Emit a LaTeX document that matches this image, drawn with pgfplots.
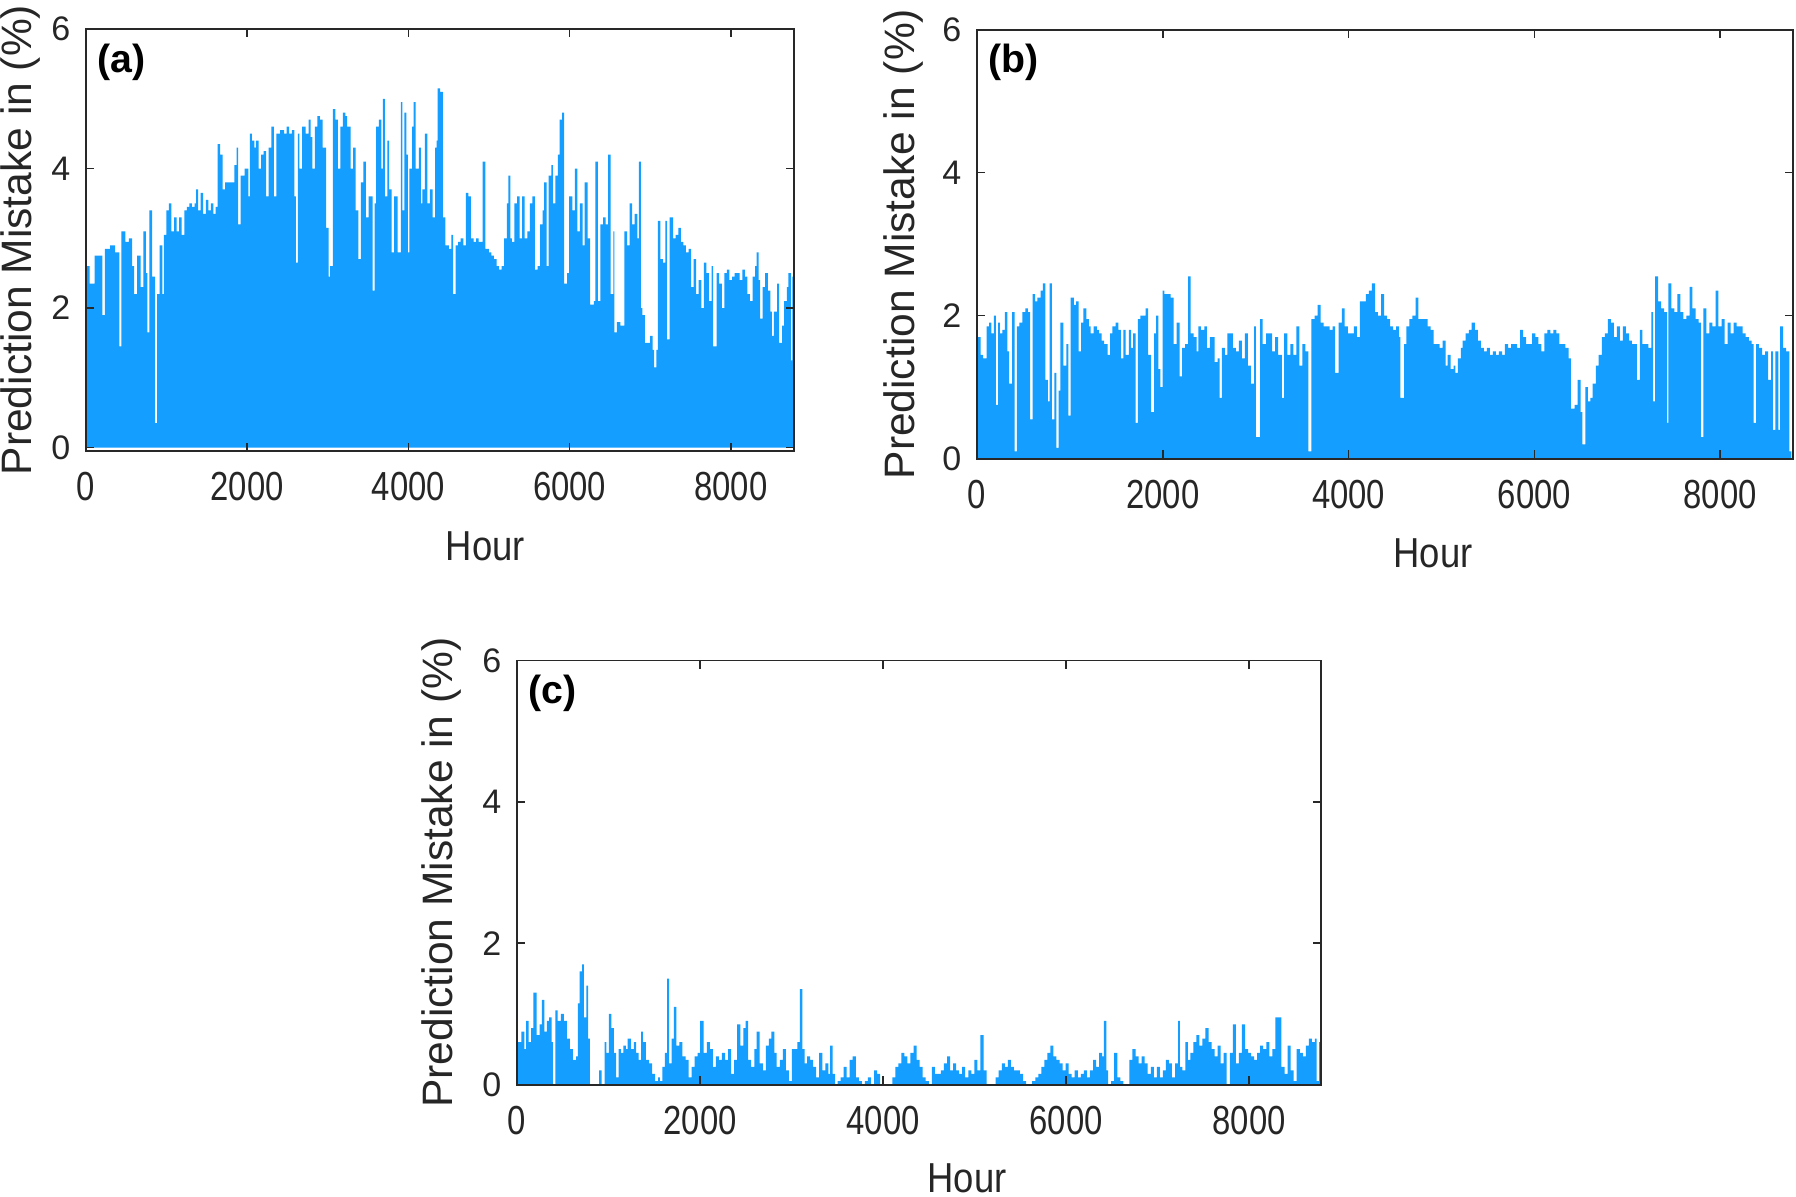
\documentclass[border=0pt]{standalone}
\usepackage{pgfplots}
\pgfplotsset{compat=1.18}
\usepackage{fontspec}
\setmainfont{Liberation Sans}
\newfontfamily\condfont{Liberation Sans}[FakeStretch=0.87]
\newfontfamily\tickfont{Liberation Sans}[FakeStretch=0.81]
\definecolor{barblue}{RGB}{20,158,255}
\definecolor{framec}{RGB}{40,40,40}

\pgfplotsset{
  panel/.style={
    scale only axis, anchor=north west,
    xmin=0, xmax=8784, ymin=0, ymax=6,
    xtick={0,2000,4000,6000,8000}, xticklabels={0,2000,4000,6000,8000},
    ytick={0,2,4,6}, yticklabels={0,2,4,6},
    scaled x ticks=false, scaled y ticks=false,
    tick align=inside, major tick length=2.5pt,
    axis on top,
    axis line style={line width=0.6pt, framec},
    every tick/.style={line width=0.5pt, framec},
    xticklabel style={font=\tickfont\fontsize{12.4}{14}\selectfont, yshift=-3pt, text=black!85},
    yticklabel style={font=\fontsize{10.4}{12}\selectfont, xshift=-1.3pt, text=black!85},
    every axis x label/.style={font=\condfont\fontsize{12.8}{14}\selectfont, anchor=center, text=black!85},
    every axis y label/.style={font=\fontsize{13}{15}\selectfont, anchor=center, rotate=90, text=black!85},
    xlabel={Hour}, ylabel={Prediction Mistake in (\%)},
  },
  area/.style={fill=barblue, draw=none, const plot mark left},
}

\begin{document}
\begin{tikzpicture}[x=1pt,y=1pt]

% ---------------- (a)
\begin{axis}[panel, at={(26.28pt,-8.86pt)}, width=216.4pt, height=129.0pt, ymin=-0.05,
  xlabel style={at={([xshift=13.8pt,yshift=-29pt]axis description cs:0.5,0)}},
  ylabel style={at={([xshift=-20pt]axis description cs:0,0.5)}}]
\addplot[area] table {
0 0
0 2.6
44 2.35
108 2.75
203 1.9
235 2.85
298 2.9
362 2.8
413 1.45
438 3.1
489 2.95
533 3.0
572 2.6
597 2.2
635 2.75
679 2.3
711 3.1
743 2.5
762 1.65
787 3.4
819 2.45
857 0.35
883 2.2
914 2.9
946 2.2
965 3.05
997 3.4
1029 3.5
1060 3.1
1092 3.3
1124 3.1
1156 3.3
1187 3.05
1219 3.4
1251 3.45
1283 3.5
1314 3.45
1346 3.5
1365 3.7
1391 3.4
1422 3.65
1454 3.35
1486 3.55
1518 3.4
1549 3.5
1581 3.35
1607 3.45
1632 4.35
1664 4.2
1695 3.7
1727 3.8
1772 3.8
1803 3.8
1842 4.05
1867 4.3
1886 3.2
1918 3.9
1969 4.0
2013 3.6
2032 4.5
2057 4.4
2089 4.3
2108 4.4
2140 4.0
2172 4.2
2203 4.25
2235 3.6
2267 4.3
2299 4.6
2330 3.6
2362 4.5
2407 4.55
2457 4.5
2489 4.6
2521 4.5
2553 4.55
2584 3.6
2604 2.65
2629 4.5
2648 4.0
2680 4.6
2724 4.5
2762 4.7
2788 4.45
2807 4.0
2838 4.6
2870 4.75
2902 4.7
2934 4.3
2978 3.15
3010 2.45
3029 2.6
3061 4.85
3092 4.7
3124 4.0
3156 4.6
3188 4.8
3219 4.75
3239 4.6
3283 4.0
3315 4.3
3346 3.4
3378 2.7
3410 3.8
3442 4.1
3473 3.3
3505 3.6
3556 2.25
3581 3.5
3600 4.6
3632 4.7
3664 4.0
3683 5.0
3708 3.6
3740 4.4
3759 3.7
3791 2.8
3823 3.6
3867 2.8
3905 4.95
3924 3.4
3950 4.8
3975 4.2
3994 2.8
4013 4.0
4045 4.6
4064 4.95
4089 4.0
4128 4.3
4153 3.5
4172 3.7
4204 4.5
4236 3.5
4267 3.7
4299 3.3
4331 4.3
4350 4.4
4362 5.15
4394 5.1
4426 3.3
4458 2.9
4502 2.85
4534 3.05
4553 2.2
4585 2.9
4616 2.95
4648 3.0
4680 2.9
4712 3.65
4743 3.6
4775 3.0
4807 2.95
4839 3.0
4870 2.95
4902 2.95
4921 4.1
4953 2.85
4997 2.8
5029 2.75
5061 2.7
5093 2.6
5124 2.55
5156 2.6
5188 3.0
5220 3.5
5239 3.9
5264 3.0
5283 2.95
5315 3.5
5347 3.6
5378 3.0
5410 3.6
5442 3.0
5474 3.1
5505 3.5
5537 3.6
5569 2.55
5601 2.6
5632 3.2
5664 3.4
5683 3.8
5715 2.6
5740 3.9
5772 4.05
5791 3.5
5823 3.9
5855 4.2
5874 4.7
5906 4.8
5931 2.35
5969 2.5
5994 3.6
6033 3.4
6064 4.0
6096 3.1
6128 3.5
6160 2.9
6185 3.8
6223 3.0
6255 2.05
6299 2.1
6318 4.1
6350 2.1
6382 3.2
6414 3.3
6445 3.2
6477 4.2
6509 2.2
6541 3.1
6553 1.65
6585 1.8
6629 1.75
6680 3.1
6712 2.9
6744 3.5
6776 3.2
6807 3.35
6839 3.0
6858 4.1
6883 2.0
6902 1.9
6934 1.5
6966 1.5
6998 1.6
7029 1.4
7049 1.15
7074 1.4
7093 3.25
7125 2.7
7157 2.65
7188 3.25
7207 1.55
7239 3.3
7284 3.0
7315 3.05
7347 3.15
7379 2.95
7410 2.9
7442 2.8
7474 2.85
7506 2.3
7537 2.7
7569 2.2
7601 2.4
7633 2.0
7664 2.65
7696 2.5
7728 2.1
7760 2.6
7779 1.45
7823 2.5
7855 2.35
7887 2.0
7918 2.5
7950 2.55
7982 2.4
8014 2.45
8045 2.5
8077 2.5
8109 2.4
8141 2.55
8172 2.45
8204 2.2
8236 2.1
8268 2.45
8299 2.6
8318 2.8
8344 2.4
8363 1.85
8395 2.3
8426 2.5
8458 2.25
8490 1.95
8509 1.6
8534 1.95
8573 2.35
8598 1.5
8636 1.75
8661 2.1
8693 2.3
8712 2.5
8744 1.25
8763 2.45
8775 2.45
8775 0
};
\node[anchor=north west, inner sep=0pt, font=\bfseries\fontsize{12}{14}\selectfont] at ([xshift=3.4pt,yshift=-4.3pt]rel axis cs:0,1) {(a)};
\end{axis}

% ---------------- (b)
\begin{axis}[panel, at={(298.57pt,-9.05pt)}, width=249.4pt, height=131.1pt,
  xlabel style={at={([xshift=14.7pt,yshift=-29pt]axis description cs:0.5,0)}},
  ylabel style={at={([xshift=-22.6pt]axis description cs:0,0.5)}}]
\addplot[area] table {
0 0
0 0.7
13 1.7
39 1.45
65 1.4
104 1.85
130 1.9
156 1.75
182 2.0
202 0.75
228 1.9
247 1.75
273 1.8
299 2.05
326 1.5
345 1.05
378 2.05
404 0.1
430 1.85
456 1.9
488 2.05
521 2.1
547 2.05
573 0.55
599 2.3
625 2.2
651 2.25
684 2.35
710 2.45
736 1.1
762 0.8
781 2.45
807 0.55
833 1.2
853 0.15
879 0.95
898 1.9
931 1.3
963 1.6
983 0.6
1009 2.25
1042 2.15
1068 2.2
1094 1.5
1120 1.9
1146 2.1
1178 1.95
1204 1.85
1224 1.75
1256 1.85
1289 1.8
1315 1.75
1341 1.65
1367 1.6
1406 1.45
1432 1.75
1458 1.85
1491 1.9
1523 1.8
1549 1.4
1575 1.8
1601 1.45
1634 1.8
1660 1.55
1680 1.75
1706 0.5
1732 1.95
1758 2.0
1790 2.0
1816 2.1
1842 1.45
1875 0.65
1907 1.75
1927 2.0
1953 1.25
1973 1.0
1999 2.35
2018 2.3
2051 2.3
2083 2.25
2116 1.6
2148 1.9
2181 1.15
2207 1.55
2239 1.6
2272 2.55
2298 1.75
2331 1.7
2363 1.5
2383 1.85
2409 1.8
2448 1.85
2474 1.55
2506 1.7
2532 1.7
2558 1.35
2591 1.4
2611 0.85
2637 1.55
2669 1.45
2695 1.75
2721 1.75
2754 1.55
2786 1.5
2819 1.65
2851 1.4
2884 1.75
2916 1.3
2949 1.05
2982 1.85
3001 0.3
3047 1.95
3073 1.6
3112 1.75
3144 1.75
3177 1.5
3209 1.7
3242 1.45
3281 0.85
3307 1.75
3340 1.45
3372 1.6
3405 1.45
3437 1.85
3470 1.3
3502 1.6
3535 1.5
3567 0.1
3600 1.95
3633 2.0
3665 2.15
3698 1.9
3730 1.85
3763 1.85
3795 1.8
3828 1.85
3854 1.2
3893 1.9
3926 2.1
3958 1.85
3991 1.75
4023 1.75
4056 1.85
4088 1.7
4121 2.2
4153 2.2
4186 2.3
4218 2.35
4251 2.45
4284 2.05
4316 2.0
4349 2.3
4381 2.0
4414 1.95
4446 1.85
4479 1.8
4511 1.85
4544 1.7
4557 0.85
4596 1.6
4622 1.85
4655 1.95
4687 2.0
4720 2.25
4752 1.95
4785 1.95
4817 1.95
4850 1.85
4883 1.8
4915 1.6
4948 1.6
4980 1.55
5013 1.65
5045 1.3
5065 1.45
5097 1.25
5130 1.3
5149 1.2
5175 1.4
5208 1.55
5228 1.65
5260 1.75
5293 1.8
5325 1.9
5358 1.8
5390 1.65
5423 1.55
5455 1.5
5488 1.55
5520 1.45
5553 1.5
5586 1.45
5618 1.5
5651 1.45
5683 1.6
5716 1.55
5748 1.6
5781 1.6
5813 1.55
5846 1.8
5878 1.7
5911 1.6
5944 1.6
5976 1.75
6009 1.7
6041 1.6
6074 1.5
6106 1.75
6139 1.8
6171 1.75
6204 1.8
6237 1.75
6269 1.6
6302 1.6
6334 1.55
6367 1.4
6393 0.7
6432 0.75
6464 1.1
6497 0.65
6517 0.2
6549 1.0
6575 0.8
6601 0.85
6627 1.05
6660 1.3
6692 1.45
6725 1.7
6757 1.75
6790 1.95
6822 1.9
6855 1.7
6888 1.85
6920 1.65
6953 1.85
6985 1.75
7018 1.65
7050 1.6
7083 1.6
7102 1.1
7135 1.8
7161 1.6
7194 1.6
7226 1.55
7259 2.05
7278 0.8
7298 2.55
7330 2.2
7363 2.1
7395 2.05
7428 0.5
7441 2.45
7473 2.1
7506 2.05
7538 2.3
7571 2.05
7604 1.95
7636 2.0
7669 2.4
7701 2.1
7734 1.95
7766 1.9
7792 0.3
7818 2.1
7851 1.75
7884 1.9
7916 1.85
7949 2.35
7981 1.85
8014 1.95
8046 1.6
8079 1.9
8111 1.75
8144 1.9
8177 1.85
8209 1.85
8242 1.75
8274 1.7
8307 1.65
8339 1.6
8359 0.5
8385 1.6
8417 1.55
8450 1.45
8482 1.5
8515 1.1
8547 1.5
8567 0.4
8593 1.5
8626 0.4
8645 1.85
8678 1.55
8710 1.5
8743 0.1
8765 0.1
8765 0
};
\node[anchor=north west, inner sep=0pt, font=\bfseries\fontsize{12}{14}\selectfont] at ([xshift=3.4pt,yshift=-4.3pt]rel axis cs:0,1) {(b)};
\end{axis}

% ---------------- (c)
\begin{axis}[panel, at={(158.0pt,-201.85pt)}, width=245.7pt, height=129.6pt,
  xlabel style={at={([xshift=14.7pt,yshift=-28.5pt]axis description cs:0.5,0)}},
  ylabel style={at={([xshift=-23.2pt]axis description cs:0,0.5)}}]
\addplot[area] table {
0 0
0 0.6
47 0.75
80 0.5
100 0.9
126 0.6
153 0.8
179 1.3
213 0.7
246 0.85
272 1.2
299 0.75
326 0.9
352 0.95
379 0.6
392 0.0
419 1.05
445 0.9
478 1.0
512 0.9
545 0.65
578 0.5
611 0.35
645 0.4
665 1.15
684 1.6
711 1.7
731 0.95
758 1.4
777 0.65
797 0.0
897 0.2
924 0.0
957 0.6
977 0.45
1003 1.0
1030 0.8
1057 0.45
1083 0.1
1110 0.5
1136 0.45
1163 0.55
1189 0.5
1209 0.65
1243 0.5
1276 0.6
1302 0.45
1329 0.35
1356 0.75
1376 0.6
1409 0.35
1442 0.3
1475 0.15
1508 0.05
1542 0.1
1562 0.05
1588 0.25
1615 0.45
1641 1.5
1661 0.3
1688 0.65
1714 1.1
1741 0.55
1774 0.6
1807 0.4
1841 0.35
1874 0.1
1907 0.25
1940 0.4
1974 0.45
2000 0.9
2020 0.9
2040 0.45
2073 0.6
2106 0.5
2140 0.25
2173 0.4
2206 0.35
2239 0.45
2273 0.35
2306 0.5
2339 0.15
2372 0.35
2406 0.85
2439 0.55
2472 0.8
2499 0.9
2525 0.35
2558 0.25
2592 0.5
2618 0.75
2651 0.3
2685 0.2
2718 0.55
2751 0.65
2778 0.75
2811 0.45
2837 0.25
2871 0.35
2904 0.5
2937 0.2
2970 0.05
3004 0.5
3037 0.5
3063 0.6
3090 1.35
3117 0.5
3143 0.3
3170 0.4
3203 0.35
3236 0.25
3269 0.1
3302 0.45
3336 0.2
3369 0.3
3402 0.15
3422 0.55
3449 0.15
3475 0.0
3502 0.05
3535 0.1
3568 0.25
3602 0.1
3635 0.35
3668 0.4
3701 0.1
3735 0.05
3768 0.0
3801 0.05
3834 0.1
3867 0.0
3901 0.2
3934 0.15
3967 0.0
4100 0.1
4133 0.25
4166 0.3
4200 0.45
4233 0.4
4266 0.3
4299 0.45
4333 0.55
4366 0.35
4399 0.25
4432 0.1
4465 0.05
4499 0.0
4532 0.25
4565 0.15
4598 0.15
4632 0.2
4665 0.3
4698 0.4
4731 0.2
4765 0.3
4798 0.2
4831 0.15
4864 0.25
4897 0.1
4931 0.2
4964 0.15
4997 0.35
5030 0.2
5063 0.7
5097 0.2
5130 0.0
5230 0.1
5263 0.2
5296 0.3
5329 0.25
5363 0.35
5396 0.25
5429 0.2
5462 0.2
5495 0.15
5529 0.05
5562 0.0
5628 0.05
5662 0.1
5695 0.15
5728 0.25
5761 0.35
5794 0.45
5828 0.55
5861 0.4
5894 0.35
5927 0.3
5961 0.2
5994 0.3
6027 0.15
6060 0.1
6093 0.2
6127 0.1
6160 0.15
6193 0.2
6226 0.1
6260 0.2
6293 0.35
6326 0.25
6359 0.45
6392 0.4
6412 0.9
6439 0.2
6459 0.0
6492 0.05
6525 0.45
6558 0.1
6592 0.05
6625 0.0
6691 0.35
6724 0.5
6758 0.4
6791 0.3
6824 0.4
6857 0.3
6891 0.15
6924 0.25
6957 0.1
6990 0.25
7023 0.1
7057 0.2
7090 0.35
7123 0.3
7156 0.1
7190 0.3
7223 0.9
7243 0.25
7269 0.2
7302 0.6
7329 0.35
7356 0.45
7389 0.6
7422 0.7
7455 0.55
7489 0.65
7522 0.8
7555 0.6
7588 0.5
7622 0.4
7655 0.55
7688 0.3
7721 0.45
7754 0.0
7788 0.45
7821 0.85
7854 0.3
7887 0.45
7920 0.85
7954 0.5
7987 0.45
8020 0.4
8053 0.35
8087 0.45
8120 0.55
8153 0.5
8186 0.6
8219 0.4
8253 0.5
8286 0.95
8319 0.95
8352 0.25
8386 0.15
8419 0.55
8452 0.2
8485 0.05
8518 0.5
8552 0.45
8585 0.4
8618 0.55
8651 0.65
8684 0.6
8717 0.65
8737 0.05
8764 0.6
8772 0.6
8772 0
};
\node[anchor=north west, inner sep=0pt, font=\bfseries\fontsize{12}{14}\selectfont] at ([xshift=3.4pt,yshift=-4.3pt]rel axis cs:0,1) {(c)};
\end{axis}

\pgfresetboundingbox
\useasboundingbox (0pt,0pt) rectangle (548.86pt,-365.8pt);
\end{tikzpicture}
\end{document}
